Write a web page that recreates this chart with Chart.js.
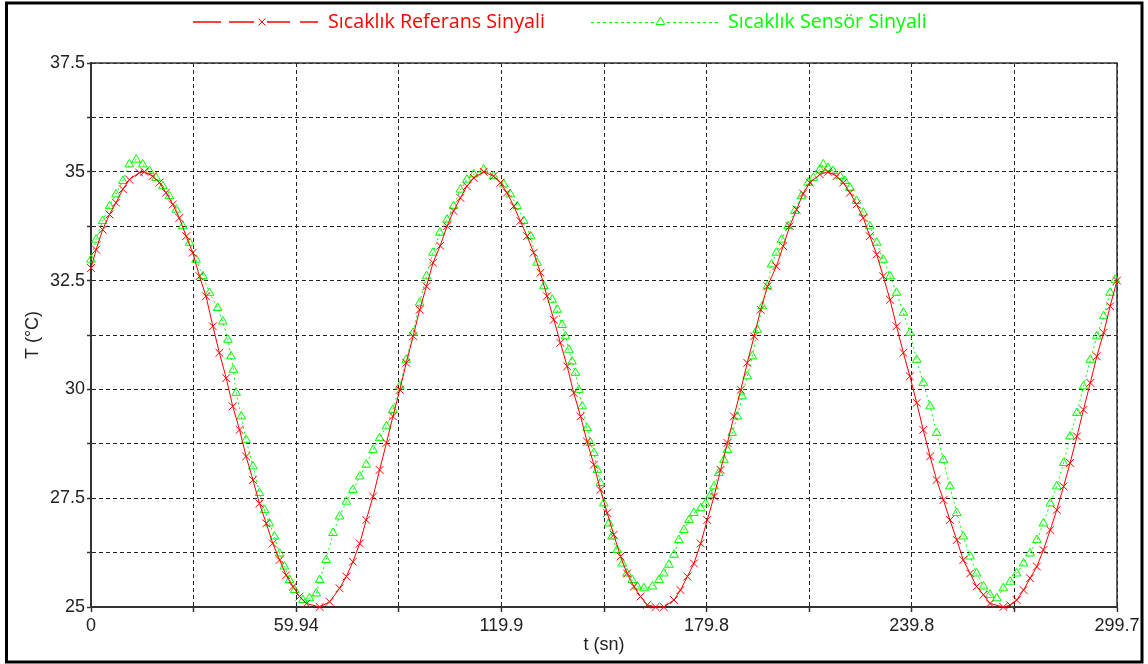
<!DOCTYPE html>
<html>
<head>
<meta charset="utf-8">
<script src="https://cdn.jsdelivr.net/npm/chart.js@4.4.1/dist/chart.umd.min.js"></script>
<style>
html,body{margin:0;padding:0;background:#fff;}
canvas{display:block;}
</style>
</head>
<body>
<canvas id="c" width="1148" height="664"></canvas>
<script>
// ---- data ----
const seriesNames = ['Sıcaklık Referans Sinyali', 'Sıcaklık Sensör Sinyali'];

const refTime = [
  0,1.5,3.4,5.4,7.3,9.3,11.2,14.1,15.6,18,
  20,21.9,23.9,25.8,27.8,29.7,31.7,33.6,35.6,37.5,
  39.5,41.4,43.4,45.3,47.3,49.2,51.2,53.1,55.1,57,
  59,60.9,62.9,66.8,69.7,72.6,74.6,76.5,78.5,80.4,
  82.4,84.3,86.3,88.2,90.2,92.1,94.1,96,98,99.9,
  102,104,105.9,107.9,109.8,111.8,114.7,117.6,119.6,121.5,
  123.5,125.4,127.4,129.3,131.3,133.2,135.2,137.1,139.1,141,
  143,144.9,146.9,148.8,150.8,152.7,154.7,156.6,158.6,160.5,
  162.5,164.9,167.3,170.3,172.2,174.2,176.1,178.1,180,182,
  183.9,185.9,187.8,189.8,191.7,193.7,195.6,197.6,200.2,202.2,
  204.1,206.1,208,210,212.9,215.3,217.8,219.7,221.7,223.6,
  225.6,227.5,229.5,231.4,233.4,235.3,237.3,239.2,241.2,243.1,
  245.1,247,249,250.9,252.9,254.8,256.8,258.7,260.7,262.6,
  266.5,268.5,270.4,272.4,274.3,276.3,278.2,280.2,282.1,284.1,
  286,288,289.9,291.9,293.8,295.8,297.7,299.7
];
const refTemp = [
  32.79,33.21,33.67,34.02,34.29,34.6,34.82,34.98,35.0,34.9,
  34.75,34.52,34.25,33.94,33.52,33.14,32.6,32.14,31.45,30.84,
  30.26,29.61,29.07,28.46,27.92,27.38,26.92,26.46,26.08,25.73,
  25.47,25.24,25.08,25.0,25.12,25.43,25.7,26.04,26.46,27.0,
  27.54,28.15,28.77,29.38,29.99,30.61,31.22,31.83,32.37,32.91,
  33.3,33.75,34.1,34.4,34.67,34.86,35.0,34.9,34.75,34.52,
  34.21,33.87,33.52,33.14,32.68,32.14,31.6,31.07,30.53,29.92,
  29.38,28.8,28.27,27.69,27.16,26.66,26.16,25.77,25.47,25.24,
  25.05,25.0,25.0,25.16,25.39,25.7,26.0,26.46,27.0,27.54,
  28.15,28.77,29.38,29.99,30.61,31.22,31.83,32.37,32.83,33.29,
  33.75,34.13,34.5,34.75,34.94,35.0,34.9,34.75,34.52,34.25,
  33.94,33.52,33.1,32.6,32.06,31.45,30.84,30.3,29.69,29.07,
  28.46,27.92,27.46,27.0,26.54,26.08,25.77,25.47,25.28,25.08,
  25.0,25.04,25.16,25.39,25.66,25.93,26.31,26.77,27.23,27.77,
  28.31,28.92,29.53,30.15,30.76,31.3,31.91,32.5
];

const senTime = [
  0,1.5,3.4,5.4,7.3,9.3,11.2,13.2,15.1,17.1,
  19,21,22.9,24.9,26.8,28.8,30.7,32.7,34.6,37,
  38.5,40,40.9,41.6,42.4,43.9,45.3,47.3,49.2,50.7,
  52.1,53.6,55.1,56.5,58,59.5,61.9,63.8,65.8,66.8,
  68.7,70.7,72.6,74.6,76.5,78.5,80.4,82.4,84.3,86.3,
  88.2,90.2,92.1,94.1,96,98,99.9,101.9,104,105.9,
  107.9,109.8,111.8,114.7,117.6,120.6,122.5,124.5,126.4,128.4,
  130.3,132.3,134.7,136.2,137.6,138.6,139.6,140.5,141.5,142.5,
  143.5,144.9,145.9,146.9,147.9,148.8,149.8,151.3,152.2,153.7,
  155.2,156.6,158.1,159.6,161.5,164,165.9,167.3,168.8,170.3,
  171.7,173.2,174.7,176.1,178.1,179.5,181,182,183.4,184.9,
  185.9,187.3,188.8,190.2,191.7,193.2,194.6,196.1,197.6,198.8,
  200.2,201.7,203.6,205.6,207.5,209.5,211,212.9,213.9,215.3,
  216.8,218.8,220.2,221.7,223.6,225.6,227.5,229.5,231.4,233.4,
  235.3,237.3,239.2,241.2,243.1,245.1,247,249,250.9,252.9,
  254.8,256.8,258.7,260.7,262.6,264.6,266.5,268.5,270.4,272.4,
  274.3,276.3,278.2,280.2,282.1,284.1,286,288,289.9,291.9,
  293.8,295.8,297.7,299.2
];
const senTemp = [
  32.98,33.44,33.87,34.21,34.48,34.79,35.17,35.28,35.17,35.02,
  34.86,34.67,34.44,34.13,33.75,33.37,32.98,32.6,32.22,31.87,
  31.56,31.14,30.76,30.45,29.92,29.38,28.84,28.23,27.62,27.23,
  26.92,26.62,26.23,25.93,25.62,25.39,25.16,25.2,25.31,25.62,
  26.08,26.7,27.08,27.42,27.69,28.0,28.27,28.61,28.88,29.15,
  29.53,30.07,30.68,31.3,31.99,32.6,33.14,33.6,33.9,34.21,
  34.59,34.82,34.94,35.05,34.9,34.71,34.48,34.21,33.87,33.52,
  32.91,32.37,32.06,31.83,31.48,31.22,30.91,30.64,30.38,29.99,
  29.61,29.11,28.77,28.54,28.15,27.85,27.38,26.92,26.62,26.31,
  26.0,25.77,25.62,25.47,25.43,25.47,25.62,25.77,25.97,26.2,
  26.54,26.77,27.0,27.16,27.27,27.38,27.58,27.77,28.08,28.38,
  28.61,29.0,29.38,29.84,30.3,30.76,31.37,31.91,32.37,32.87,
  33.14,33.44,33.75,34.1,34.44,34.75,34.86,35.05,35.17,35.09,
  35.02,34.9,34.79,34.63,34.33,34.06,33.75,33.37,32.98,32.6,
  32.22,31.76,31.3,30.68,30.15,29.61,29.0,28.38,27.77,27.16,
  26.62,26.16,25.77,25.47,25.28,25.2,25.43,25.58,25.77,26.0,
  26.23,26.54,26.92,27.38,27.77,28.31,28.92,29.46,30.07,30.68,
  31.22,31.68,32.22,32.52
];

const xGridValues = [0,29.97,59.94,89.91,119.88,149.85,179.82,209.79,239.76,269.73,299.7];
const xTickLabels = ['0','','59.94','','119.9','','179.8','','239.8','','299.7'];
const yGridValues = [25,26.25,27.5,28.75,30,31.25,32.5,33.75,35,36.25,37.5];
const yTickLabels = ['25','','27.5','','30','','32.5','','35','','37.5'];

const xTitle = 't (sn)';
const yTitle = 'T (°C)';

// ---- styles ----
const RED = '#ff0000';
const GREEN = '#00ff00';
const AXIS_FONT = {family: '"Liberation Sans", Arial, sans-serif', size: 18};
const LEGEND_FAMILY = '"Open Sans", "Noto Sans", sans-serif';

function drawCross(ctx, x, y, r) {
  ctx.beginPath();
  ctx.moveTo(x - r, y - r); ctx.lineTo(x + r, y + r);
  ctx.moveTo(x + r, y - r); ctx.lineTo(x - r, y + r);
  ctx.stroke();
}
function drawTri(ctx, x, y, r) {
  ctx.beginPath();
  ctx.moveTo(x, y - r);
  ctx.lineTo(x + r * 0.866, y + r * 0.5);
  ctx.lineTo(x - r * 0.866, y + r * 0.5);
  ctx.closePath();
  ctx.stroke();
}

const framePlugin = {
  id: 'frame',
  beforeDraw(chart) {
    const {ctx, width, height} = chart;
    ctx.save();
    ctx.fillStyle = '#fff';
    ctx.fillRect(0, 0, width, height);
    ctx.strokeStyle = '#000';
    ctx.lineWidth = 3;
    ctx.strokeRect(6.5, 3, width - 12.5, height - 5);
    ctx.restore();
  },
  beforeDatasetsDraw(chart) {
    const {ctx, chartArea: a} = chart;
    ctx.save();
    ctx.strokeStyle = '#333';
    ctx.lineWidth = 1.5;
    ctx.beginPath();
    ctx.moveTo(a.left, a.top);
    ctx.lineTo(a.right, a.top);
    ctx.lineTo(a.right, a.bottom);
    ctx.stroke();
    ctx.restore();
  },
  afterDraw(chart) {
    const ctx = chart.ctx;
    const ly = 22;
    ctx.save();
    // text size fitted so the first label is ~217px wide
    ctx.font = '18px ' + LEGEND_FAMILY;
    const w0 = ctx.measureText(seriesNames[0]).width;
    const fs = 18 * 217 / w0;
    ctx.font = fs.toFixed(2) + 'px ' + LEGEND_FAMILY;
    ctx.textBaseline = 'middle';
    ctx.textAlign = 'left';

    // reference item: long-dash line with a cross
    ctx.strokeStyle = RED;
    ctx.lineWidth = 1.5;
    [[193, 221], [229, 254], [267, 290], [300, 318]].forEach(([a, b]) => {
      ctx.beginPath(); ctx.moveTo(a, ly); ctx.lineTo(b, ly); ctx.stroke();
    });
    ctx.lineWidth = 1;
    drawCross(ctx, 262, ly, 3.5);
    ctx.fillStyle = RED;
    ctx.fillText(seriesNames[0], 328, ly);

    // sensor item: dotted line with a triangle
    ctx.strokeStyle = GREEN;
    ctx.lineWidth = 1;
    ctx.setLineDash([3, 3]);
    ctx.beginPath(); ctx.moveTo(591, ly + 0.5); ctx.lineTo(654, ly + 0.5); ctx.stroke();
    ctx.beginPath(); ctx.moveTo(667, ly + 0.5); ctx.lineTo(718, ly + 0.5); ctx.stroke();
    ctx.setLineDash([]);
    drawTri(ctx, 660.5, ly, 5);
    ctx.fillStyle = GREEN;
    ctx.fillText(seriesNames[1], 728, ly);
    ctx.restore();
  }
};

const toPoints = (ts, vs) => ts.map((t, i) => ({x: t, y: vs[i]}));

new Chart(document.getElementById('c'), {
  type: 'scatter',
  data: {
    datasets: [
      {
        label: seriesNames[0],
        data: toPoints(refTime, refTemp),
        showLine: true,
        borderColor: RED,
        backgroundColor: RED,
        borderWidth: 1,
        pointStyle: 'crossRot',
        pointRadius: 5.5,
        pointBorderWidth: 1,
        pointBorderColor: RED,
        clip: false
      },
      {
        label: seriesNames[1],
        data: toPoints(senTime, senTemp),
        showLine: true,
        borderColor: GREEN,
        backgroundColor: 'rgba(0,0,0,0)',
        borderWidth: 1,
        borderDash: [2, 3],
        pointStyle: 'triangle',
        pointRadius: 5,
        pointBorderWidth: 1,
        pointBorderColor: GREEN,
        pointBackgroundColor: 'rgba(0,0,0,0)',
        clip: false
      }
    ]
  },
  options: {
    responsive: false,
    animation: false,
    devicePixelRatio: 1,
    events: [],
    layout: {padding: {top: 63, right: 31, left: 0, bottom: 0}},
    plugins: {
      legend: {display: false},
      tooltip: {enabled: false}
    },
    scales: {
      x: {
        type: 'linear',
        min: 0,
        max: 299.7,
        afterBuildTicks: s => { s.ticks = xGridValues.map(v => ({value: v})); },
        afterFit: s => { s.height = 57; },
        ticks: {
          callback: (v, i) => xTickLabels[i],
          autoSkip: false,
          maxRotation: 0,
          padding: 3,
          color: '#222',
          font: AXIS_FONT
        },
        grid: {
          color: '#222',
          lineWidth: 1,
          drawTicks: true,
          tickLength: 5,
          tickColor: '#333',
          tickWidth: 1.5
        },
        border: {display: true, color: '#333', width: 2, dash: [4, 3]},
        title: {
          display: true,
          text: xTitle,
          color: '#222',
          font: AXIS_FONT,
          padding: {top: 0, bottom: 8}
        }
      },
      y: {
        type: 'linear',
        min: 25,
        max: 37.5,
        afterBuildTicks: s => { s.ticks = yGridValues.map(v => ({value: v})); },
        afterFit: s => { s.width = 91; },
        ticks: {
          callback: (v, i) => yTickLabels[i],
          autoSkip: false,
          padding: 2,
          color: '#222',
          font: AXIS_FONT
        },
        grid: {
          color: '#222',
          lineWidth: 1,
          drawTicks: true,
          tickLength: 4,
          tickColor: '#333',
          tickWidth: 1.5
        },
        border: {display: true, color: '#333', width: 2, dash: [4, 3]},
        title: {
          display: true,
          text: yTitle,
          color: '#222',
          font: AXIS_FONT,
          padding: {top: 22, bottom: 0}
        }
      }
    }
  },
  plugins: [framePlugin]
});
</script>
</body>
</html>
